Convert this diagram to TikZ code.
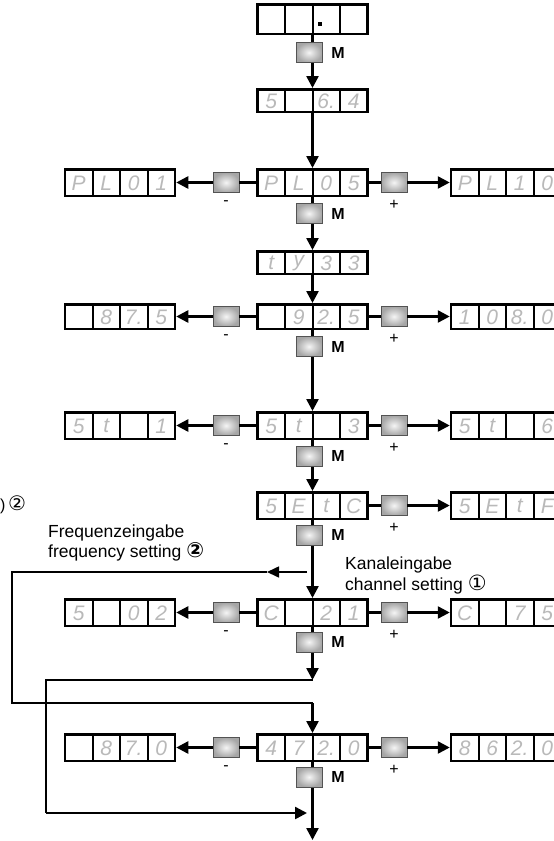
\documentclass[tikz,border=0pt]{standalone}
\usepackage{fontspec}
\setmainfont{Liberation Sans}
\newfontfamily\dvs{DejaVu Sans}
\usetikzlibrary{arrows.meta,backgrounds,calc}

\tikzset{
  disp/.style={draw, line width=2.5pt, fill=white, minimum width=110pt, inner sep=0pt},
  divider/.style={line width=2pt},
  digit/.style={font=\fontsize{21}{21}\selectfont\itshape, text=gray!55, inner sep=0pt},
  btn/.style={draw=gray!65!black, line width=0.6pt, minimum width=26pt, minimum height=20pt,
    inner sep=0pt, inner color=gray!8, outer color=gray!70},
  flow/.style={line width=2.5pt, -{Triangle[length=12pt,width=12pt]}},
  plain/.style={line width=2.5pt},
  loopline/.style={line width=1.6pt},
  keylbl/.style={font=\fontsize{16}{16}\selectfont\bfseries, inner sep=0pt},
  pm/.style={font=\fontsize{16}{16}\selectfont, inner sep=0pt},
  lbl/.style={font=\fontsize{17.5}{20}\selectfont, inner sep=0pt, anchor=base west},
  circ/.style={font=\dvs\fontsize{21}{20}\selectfont},
}

% name, cx, cy, height, d1..d4
\newcommand\dbox[8]{%
  \node[disp, minimum height={#4pt-2.5pt}] (#1) at (#2,#3) {};
  \foreach \i in {1,2,3}
    \draw[divider] ({#2-55+\i*27.5},{#3-#4/2+1}) -- ({#2-55+\i*27.5},{#3+#4/2-1});
  \node[digit] at ({#2-41.25},{#3+0.5}) {#5};
  \node[digit] at ({#2-13.75},{#3+0.5}) {#6};
  \node[digit] at ({#2+13.75},{#3+0.5}) {#7};
  \node[digit] at ({#2+41.25},{#3+0.5}) {#8};
}

\begin{document}
\begin{tikzpicture}[x=1pt,y=-1pt]
\useasboundingbox (0,0) rectangle (554,841);

% display boxes
\dbox{r0}{312.5}{19}{32}{}{}{}{}
\node[fill=black, minimum size=4pt, inner sep=0pt] (dot) at (320,24) {};
\dbox{r1}{312.5}{100.5}{25}{5}{}{6.}{4}
\dbox{r2}{312.5}{182.5}{29}{P}{L}{0}{5}
\dbox{r2l}{120}{182.5}{29}{P}{L}{0}{1}
\dbox{r2r}{506}{182.5}{29}{P}{L}{1}{0}
\dbox{r3}{312.5}{262.5}{25}{t}{y}{3}{3}
\dbox{r4}{312.5}{316.5}{27}{}{9}{2.}{5}
\dbox{r4l}{120}{316.5}{27}{}{8}{7.}{5}
\dbox{r4r}{506}{316.5}{27}{1}{0}{8.}{0}
\dbox{r5}{312.5}{425.5}{29}{5}{t}{}{3}
\dbox{r5l}{120}{425.5}{29}{5}{t}{}{1}
\dbox{r5r}{506}{425.5}{29}{5}{t}{}{6}
\dbox{r6}{312.5}{505.5}{29}{5}{E}{t}{C}
\dbox{r6r}{506}{505.5}{29}{5}{E}{t}{F}
\dbox{r7}{312.5}{612.5}{29}{C}{}{2}{1}
\dbox{r7l}{120}{612.5}{29}{5}{}{0}{2}
\dbox{r7r}{506}{612.5}{29}{C}{}{7}{5}
\dbox{r8}{312.5}{747.5}{29}{4}{7}{2.}{0}
\dbox{r8l}{120}{747.5}{29}{}{8}{7.}{0}
\dbox{r8r}{506}{747.5}{29}{8}{6}{2.}{0}

% M buttons
\foreach \n/\y in {m0/52.5, m2/213.5, m4/346.5, m5/456, m6/535, m7/642, m8/777}{
  \node[btn] (\n) at (309,\y) {};
  \node[keylbl] (\n lbl) at (338,\y) {M};
}
% side buttons
\foreach \r/\y in {2/182.5, 4/316.5, 5/425.5, 7/612.5, 8/747.5}{
  \node[btn] (l\r) at (226,\y) {};
  \node[pm] (l\r lbl) at (226,\y+21) {-};
}
\foreach \r/\y in {2/182.5, 4/316.5, 5/425.5, 6/505.5, 7/612.5, 8/747.5}{
  \node[btn] (p\r) at (394,\y) {};
  \node[pm] (p\r lbl) at (394,\y+22) {+};
}

% free ends and bends
\coordinate (j1) at (312.5,680);
\coordinate (j1a) at (46,680);
\coordinate (j1b) at (46,813);
\coordinate (j1c) at (307,813);
\coordinate (brs) at (307,572);
\coordinate (brt) at (267,572);
\coordinate (br1) at (12,572);
\coordinate (br2) at (12,703);
\coordinate (j2) at (312.5,703);
\coordinate (endp) at (312.5,840);

\begin{scope}[on background layer]
  \draw[flow] (r0) -- (r1);
  \draw[flow] (r1) -- (r2);
  \draw[flow] (r2) -- (r3);
  \draw[flow] (r3) -- (r4);
  \draw[flow] (r4) -- (r5);
  \draw[flow] (r5) -- (r6);
  \draw[flow] (r6) -- (r7);
  \draw[flow] (r7) -- (j1);
  \draw[flow] (j2) -- (r8);
  \draw[flow] (r8) -- (endp);
\end{scope}

% side connectors
\foreach \r in {2,4,5,7,8}{
  \draw[plain] (r\r) -- (l\r);
  \draw[flow] (l\r) -- (r\r l);
}
\foreach \r in {2,4,5,6,7,8}{
  \draw[plain] (r\r) -- (p\r);
  \draw[flow] (p\r) -- (r\r r);
}

% loops
\draw[loopline] (j1) -- (j1a) -- (j1b);
\draw[line width=2.5pt, -{Triangle[length=12pt,width=12pt]}] (j1b) -- (j1c);
\draw[loopline, -{Triangle[length=12pt,width=11pt]}] (brs) -- (brt);
\draw[loopline] (brt) -- (br1) -- (br2) -- (j2);

% texts
\node[lbl] (fq1) at (48,537) {Frequenzeingabe};
\node[lbl] (fq2) at (48,557) {frequency setting {\dvs\bfseries\fontsize{21}{20}\selectfont ②}};
\node[lbl] (ch1) at (345,569) {Kanaleingabe};
\node[lbl] (ch2) at (345,590) {channel setting {\dvs\fontsize{21}{20}\selectfont ①}};
\node[font=\fontsize{16}{16}\selectfont, inner sep=0pt, anchor=base west] (cut) at (0,510) {)\,{\dvs\fontsize{20}{20}\selectfont ②}};
\end{tikzpicture}
\end{document}
